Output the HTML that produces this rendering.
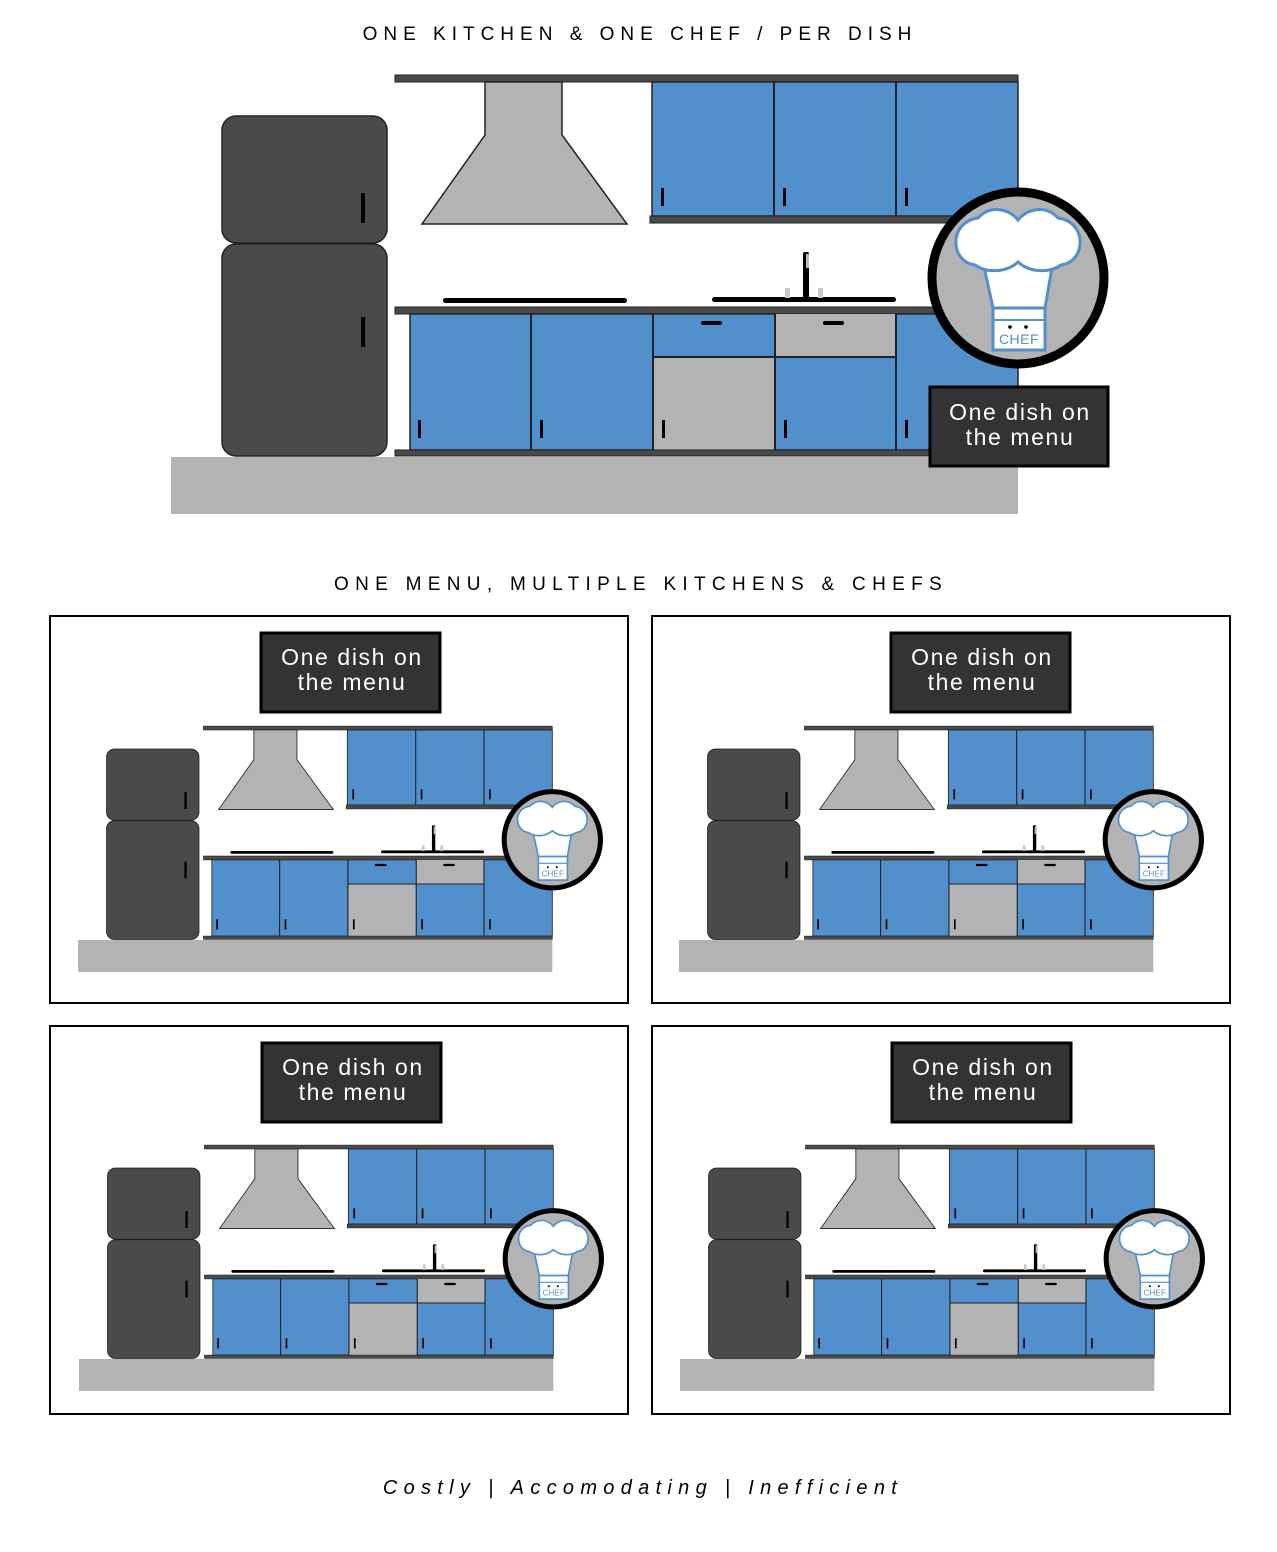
<!DOCTYPE html>
<html><head><style>
html,body{margin:0;padding:0;background:#fff;}
body{width:1277px;height:1547px;overflow:hidden;font-family:"Liberation Sans",sans-serif;}
</style></head><body>
<svg width="1277" height="1547" viewBox="0 0 1277 1547" xmlns="http://www.w3.org/2000/svg" font-family="Liberation Sans, sans-serif">
<defs>
<g id="k">
  <rect x="171" y="457" width="847" height="57" fill="#b3b3b3"/>
  <rect x="222" y="116" width="165" height="127" rx="14" fill="#4a4a4c" stroke="#222" stroke-width="1.5"/>
  <rect x="222" y="244" width="165" height="212" rx="14" fill="#4a4a4c" stroke="#222" stroke-width="1.5"/>
  <rect x="361" y="193" width="4" height="30" fill="#000"/>
  <rect x="361" y="317" width="4" height="30" fill="#000"/>
  <rect x="395" y="75" width="623" height="7" fill="#4a4a4a" stroke="#222"/>
  <path d="M485 82 H562 V135 L627 224 H422 L485 135 Z" fill="#b3b3b3" stroke="#222" stroke-width="1.5"/>
  <rect x="652" y="82" width="366" height="134" fill="#528fcd" stroke="#222" stroke-width="1.5"/>
  <line x1="774" y1="82" x2="774" y2="216" stroke="#222" stroke-width="2"/>
  <line x1="896" y1="82" x2="896" y2="216" stroke="#222" stroke-width="2"/>
  <rect x="661" y="188" width="3" height="18" fill="#000"/>
  <rect x="783" y="188" width="3" height="18" fill="#000"/>
  <rect x="905" y="188" width="3" height="18" fill="#000"/>
  <rect x="650" y="216" width="368" height="7" fill="#4a4a4a" stroke="#222"/>
  <rect x="443" y="298" width="184" height="5" rx="2.5" fill="#000"/>
  <rect x="712" y="297" width="184" height="5" rx="2.5" fill="#000"/>
  <rect x="785" y="288" width="5" height="10" fill="#c8c8c8"/>
  <rect x="818" y="288" width="5" height="10" fill="#c8c8c8"/>
  <rect x="803" y="252" width="6" height="46" rx="2" fill="#000"/>
  <rect x="806" y="254" width="3" height="14" fill="#bbb"/>
  <rect x="395" y="307" width="623" height="7" fill="#4a4a4a" stroke="#222"/>
  <rect x="410" y="314" width="608" height="136" fill="#528fcd" stroke="#222" stroke-width="1.5"/>
  <rect x="775" y="314" width="121" height="43" fill="#b3b3b3"/>
  <rect x="653" y="357" width="122" height="93" fill="#b3b3b3"/>
  <path d="M531 314V450M653 314V450M775 314V450M896 314V450M653 357H896" stroke="#222" stroke-width="2" fill="none"/>
  <rect x="701" y="321" width="21" height="4" rx="2" fill="#000"/>
  <rect x="823" y="321" width="21" height="4" rx="2" fill="#000"/>
  <rect x="418" y="420" width="3" height="18" fill="#000"/>
  <rect x="540" y="420" width="3" height="18" fill="#000"/>
  <rect x="662" y="420" width="3" height="18" fill="#000"/>
  <rect x="784" y="420" width="3" height="18" fill="#000"/>
  <rect x="905" y="420" width="3" height="18" fill="#000"/>
  <rect x="395" y="450" width="623" height="6" fill="#4a4a4a" stroke="#222"/>
  <circle cx="1018" cy="278" r="86" fill="#b3b3b3" stroke="#000" stroke-width="9"/>
  <path d="M983 262 L1053 262 L1045 308 L993 308 Z" fill="#fff" stroke="#528fcd" stroke-width="3"/>
  <path d="M975 265 C950 262 948 222 978 218 C990 205 1008 208 1018 220 C1028 208 1046 205 1058 218 C1088 222 1086 262 1061 265 C1050 273 1030 273 1018 262 C1006 273 986 273 975 265 Z" fill="#fff" stroke="#528fcd" stroke-width="3"/>
  <rect x="993" y="308" width="52" height="42" fill="#fff" stroke="#528fcd" stroke-width="3"/>
  <line x1="993" y1="320" x2="1045" y2="320" stroke="#528fcd" stroke-width="2"/>
  <circle cx="1010" cy="327" r="1.8" fill="#000"/><circle cx="1026" cy="327" r="1.8" fill="#000"/>
  <text x="1019" y="344" font-size="14" letter-spacing="0.5" fill="#528fcd" text-anchor="middle">CHEF</text>
</g>
</defs>
<text x="640" y="40" font-size="19" letter-spacing="6" text-anchor="middle" fill="#000">ONE KITCHEN &amp; ONE CHEF / PER DISH</text>
<use href="#k"/>
<rect x="930" y="387" width="178" height="79" fill="#333" stroke="#000" stroke-width="3"/>
<g font-size="23" letter-spacing="1.6" fill="#fff" text-anchor="middle">
<text x="1020" y="420">One dish on</text>
<text x="1020" y="445">the menu</text>
</g>

<text x="641" y="590" font-size="19" letter-spacing="6.3" text-anchor="middle" fill="#000">ONE MENU, MULTIPLE KITCHENS &amp; CHEFS</text>

<g>
<rect x="50" y="616" width="578" height="387" fill="#fff" stroke="#000" stroke-width="2"/>
<rect x="652" y="616" width="578" height="387" fill="#fff" stroke="#000" stroke-width="2"/>
<rect x="50" y="1026" width="578" height="388" fill="#fff" stroke="#000" stroke-width="2"/>
<rect x="652" y="1026" width="578" height="388" fill="#fff" stroke="#000" stroke-width="2"/>
</g>
<use href="#k" transform="translate(78 940) scale(0.56) translate(-171 -457)"/>
<use href="#k" transform="translate(679 940) scale(0.56) translate(-171 -457)"/>
<use href="#k" transform="translate(79 1359) scale(0.56) translate(-171 -457)"/>
<use href="#k" transform="translate(680 1359) scale(0.56) translate(-171 -457)"/>

<g font-size="23" letter-spacing="1.6" fill="#fff" text-anchor="middle">
<rect x="261" y="633" width="179" height="79" fill="#333" stroke="#000" stroke-width="3"/>
<text x="352" y="665">One dish on</text><text x="352" y="690">the menu</text>
<rect x="891" y="633" width="179" height="79" fill="#333" stroke="#000" stroke-width="3"/>
<text x="982" y="665">One dish on</text><text x="982" y="690">the menu</text>
<rect x="262" y="1043" width="179" height="79" fill="#333" stroke="#000" stroke-width="3"/>
<text x="353" y="1075">One dish on</text><text x="353" y="1100">the menu</text>
<rect x="892" y="1043" width="179" height="79" fill="#333" stroke="#000" stroke-width="3"/>
<text x="983" y="1075">One dish on</text><text x="983" y="1100">the menu</text>
</g>

<text x="643" y="1494" font-size="20" font-style="italic" letter-spacing="6.3" text-anchor="middle" fill="#000">Costly | Accomodating | Inefficient</text>
</svg>
</body></html>
